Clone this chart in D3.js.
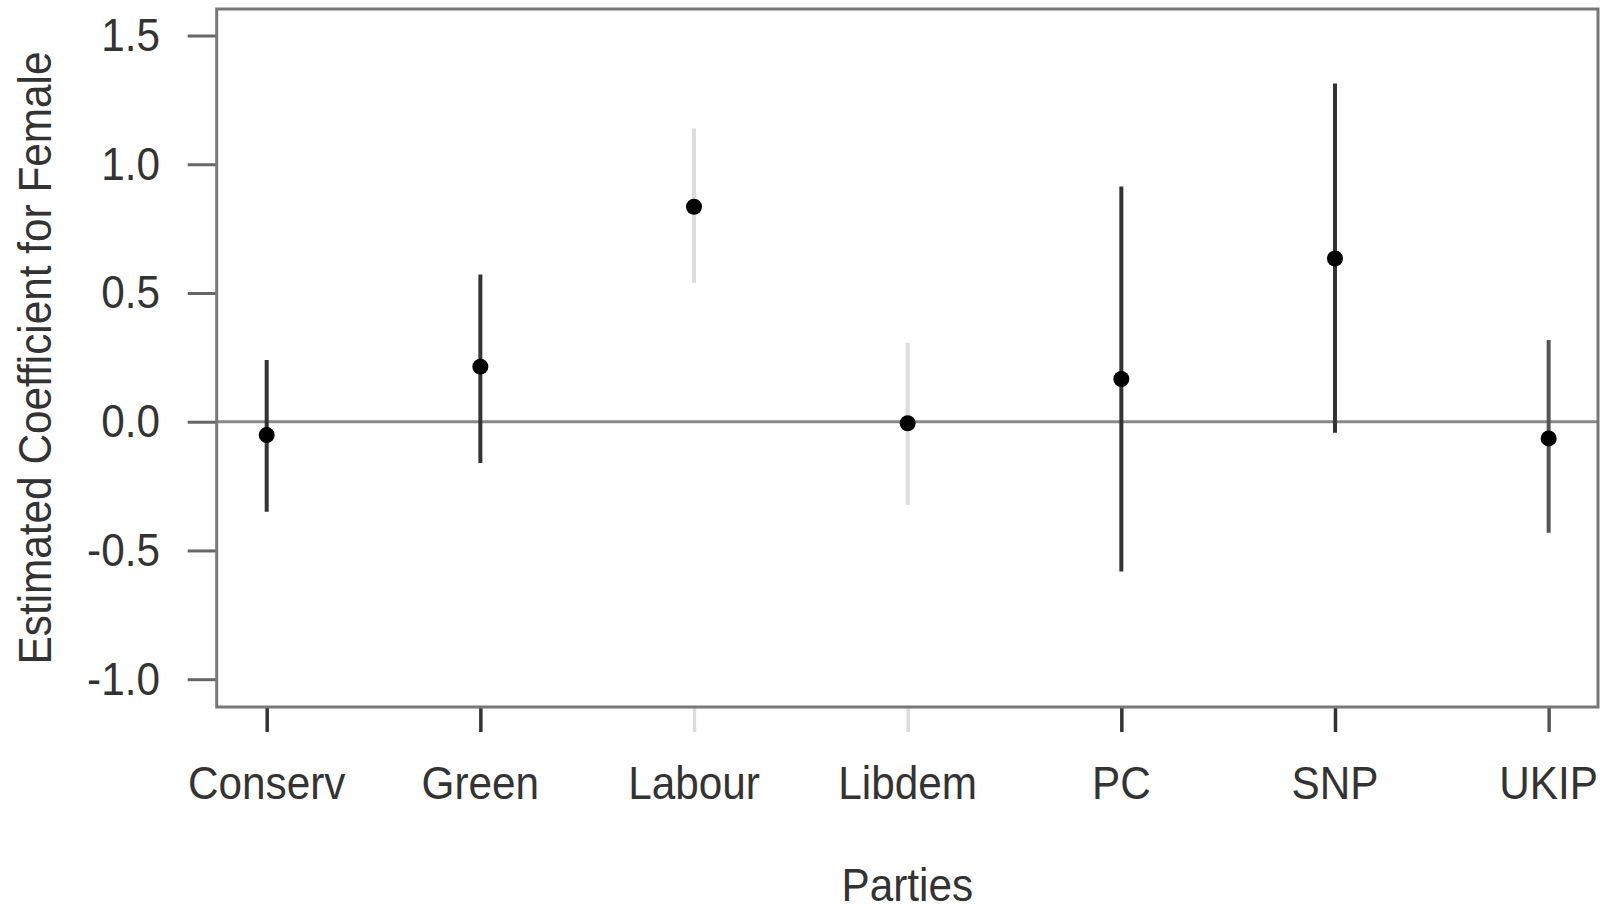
<!DOCTYPE html>
<html>
<head>
<meta charset="utf-8">
<script src="https://cdn.jsdelivr.net/npm/d3@7"></script>
<style>
  html, body { margin: 0; padding: 0; background: #fff; }
  svg { display: block; }
  text { font-family: "Liberation Sans", Arial, sans-serif; fill: #333; }
</style>
</head>
<body>
<svg id="chart" width="1606" height="911"></svg>
<script>
// data
const parties  = ["Conserv", "Green", "Labour", "Libdem", "PC", "SNP", "UKIP"];
const estimate = [-0.052, 0.214, 0.835, -0.006, 0.166, 0.634, -0.065];
const lower    = [-0.350, -0.160, 0.540, -0.323, -0.582, -0.043, -0.431];
const upper    = [0.240, 0.572, 1.139, 0.307, 0.914, 1.314, 0.317];
// bar shade per party (light = not significant)
const shade    = ["#333", "#333", "#ddd", "#ddd", "#333", "#333", "#555"];
const yTicks   = [-1.0, -0.5, 0.0, 0.5, 1.0, 1.5];

const svg = d3.select("#chart");
const box = { left: 216.7, top: 9, right: 1598, bottom: 707 };
const FS = 46, SX = 0.92;   // font size + horizontal squeeze

const x = d3.scaleLinear().domain([0.766, 7.231]).range([box.left, box.right]);
const y = d3.scaleLinear().domain([-1.108, 1.603]).range([box.bottom, box.top]);

// y axis (plain hyphen minus like the original)
const yAxis = svg.append("g")
  .attr("transform", `translate(${box.left},0)`)
  .call(d3.axisLeft(y).tickValues(yTicks).tickSize(29).tickFormat(d => d.toFixed(1)));
yAxis.select(".domain").remove();
yAxis.selectAll(".tick line").attr("stroke", "#666").attr("stroke-width", 3);
yAxis.selectAll(".tick text")
  .attr("x", -(box.left - 160) / SX)
  .attr("dy", null)
  .attr("y", 15)
  .attr("transform", `scale(${SX},1)`)
  .attr("font-size", FS)
  .attr("fill", "#333");

// x axis, tick marks shaded like their bars
const xAxis = svg.append("g")
  .attr("transform", `translate(0,${box.bottom})`)
  .call(d3.axisBottom(x).tickValues(d3.range(1, parties.length + 1)).tickSize(25).tickFormat(""));
xAxis.select(".domain").remove();
xAxis.selectAll(".tick line").attr("stroke", (d, i) => shade[i]).attr("stroke-width", 3.5);

svg.append("g").selectAll("text")
  .data(parties)
  .join("text")
  .attr("transform", (d, i) => `translate(${x(i + 1)},799) scale(${SX},1)`)
  .attr("text-anchor", "middle")
  .attr("font-size", FS)
  .text(d => d);

// zero reference line
svg.append("line")
  .attr("x1", box.left).attr("x2", box.right)
  .attr("y1", y(0)).attr("y2", y(0))
  .attr("stroke", "#888").attr("stroke-width", 3);

// error bars + point estimates
const marks = svg.append("g");
marks.selectAll("line")
  .data(parties)
  .join("line")
  .attr("x1", (d, i) => x(i + 1)).attr("x2", (d, i) => x(i + 1))
  .attr("y1", (d, i) => y(lower[i])).attr("y2", (d, i) => y(upper[i]))
  .attr("stroke", (d, i) => shade[i])
  .attr("stroke-width", 4);

marks.selectAll("circle")
  .data(parties)
  .join("circle")
  .attr("cx", (d, i) => x(i + 1))
  .attr("cy", (d, i) => y(estimate[i]))
  .attr("r", 8)
  .attr("fill", "#000");

// plot frame
svg.append("rect")
  .attr("x", box.left).attr("y", box.top)
  .attr("width", box.right - box.left).attr("height", box.bottom - box.top)
  .attr("fill", "none").attr("stroke", "#777").attr("stroke-width", 3);

// axis titles
svg.append("text")
  .attr("transform", `translate(${(box.left + box.right) / 2},901) scale(${SX},1)`)
  .attr("text-anchor", "middle")
  .attr("font-size", FS)
  .text("Parties");

svg.append("text")
  .attr("transform", `translate(51,${(box.top + box.bottom) / 2}) rotate(-90) scale(${SX},1)`)
  .attr("text-anchor", "middle")
  .attr("font-size", FS)
  .text("Estimated Coefficient for Female");
</script>
</body>
</html>
